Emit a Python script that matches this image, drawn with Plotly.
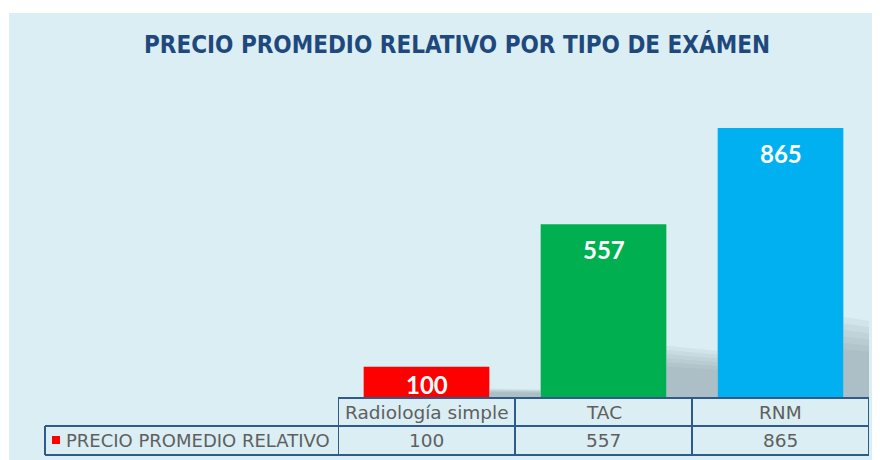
import plotly.graph_objects as go

# data
examenes = ['Radiología simple', 'TAC', 'RNM']
precio = [100, 557, 865]
serie = 'PRECIO PROMEDIO RELATIVO'
colores = ['#FF0000', '#00B050', '#00B0F0']
titulo = 'PRECIO PROMEDIO RELATIVO POR TIPO DE EXÁMEN'

# the page has an 8px body margin, so the figure is 8px smaller
W, H = 872, 452
L, R, T, B = 330, 11, 78, 62
PW, PH = W - L - R, H - T - B
YMAX = 1000


# positions given in pixels of the 880x460 window
def px(x):
    return (x - 8 - L) / PW


def py(y):
    return (H - B - (y - 8)) / PH


BG = '#DAEEF3'
LINE = '#2E5B8A'
GRIS = '#5F5F5F'
xs = list(range(len(examenes)))
bw = 0.71

fig = go.Figure()

# sombras detras de las barras (capas para un degradado hacia arriba)
capas = 6
for i, v in enumerate(precio):
    x0 = i + bw / 2
    x1 = x0 + 0.29
    h = v * 0.3
    for k in range(capas):
        hk = h * (0.6 + 0.4 * k / (capas - 1))
        fig.add_trace(go.Scatter(
            x=[x0, x1, x1, x0, x0], y=[0, 0, hk * 0.9, hk, 0],
            fill='toself', mode='none', hoverinfo='skip', showlegend=False,
            fillcolor='rgba(135,150,158,0.115)'))

fig.add_trace(go.Bar(
    x=xs, y=precio, width=bw, marker=dict(color=colores, line=dict(width=0)),
    showlegend=False, hoverinfo='skip'))

# etiquetas de valor
for i, v in enumerate(precio):
    alto = v * PH / YMAX
    if alto > 50:
        fig.add_annotation(x=i, y=v, text='<b>%d</b>' % v, showarrow=False,
                           yanchor='top', yshift=-9,
                           font=dict(family='Lato, Noto Sans, sans-serif', size=24, color='white'))
    else:
        fig.add_annotation(x=i, y=v / 2, text='<b>%d</b>' % v, showarrow=False,
                           yanchor='middle', yshift=-2,
                           font=dict(family='Lato, Noto Sans, sans-serif', size=24, color='white'))

shapes = []
# panel de fondo
shapes.append(dict(type='rect', xref='paper', yref='paper', layer='below',
                   x0=px(9), x1=px(882), y0=py(13), y1=py(462),
                   fillcolor=BG, line=dict(width=0)))

# tabla de datos
r0, r1, r2 = py(398), py(426), py(455)
lw = 2
shapes.append(dict(type='line', xref='x', yref='paper', x0=-0.5, x1=2.5, y0=r0, y1=r0,
                   line=dict(color=LINE, width=lw)))
shapes.append(dict(type='line', xref='paper', yref='paper', x0=px(45), x1=1, y0=r1, y1=r1,
                   line=dict(color=LINE, width=lw)))
shapes.append(dict(type='line', xref='paper', yref='paper', x0=px(45), x1=1, y0=r2, y1=r2,
                   line=dict(color=LINE, width=lw)))
shapes.append(dict(type='line', xref='paper', yref='paper', x0=px(45), x1=px(45), y0=r1, y1=r2,
                   line=dict(color=LINE, width=lw)))
for k in range(len(examenes) + 1):
    shapes.append(dict(type='line', xref='x', yref='paper', x0=k - 0.5, x1=k - 0.5,
                       y0=r0, y1=r2, line=dict(color=LINE, width=lw)))
# marcador de la leyenda
shapes.append(dict(type='rect', xref='paper', yref='paper',
                   x0=px(52), x1=px(60), y0=py(444), y1=py(436),
                   fillcolor=colores[0], line=dict(width=0)))

tfont = dict(family='DejaVu Sans, sans-serif', size=18.5, color=GRIS)
for i, e in enumerate(examenes):
    fig.add_annotation(x=i, y=(r0 + r1) / 2, yref='paper', text=e, showarrow=False,
                       yanchor='middle', font=tfont)
    fig.add_annotation(x=i, y=(r1 + r2) / 2, yref='paper', text=str(precio[i]),
                       showarrow=False, yanchor='middle', font=tfont)
fig.add_annotation(x=px(64), y=(r1 + r2) / 2, xref='paper', yref='paper', text=serie,
                   showarrow=False, xanchor='left', yanchor='middle',
                   font=dict(family='DejaVu Sans, sans-serif', size=18, color=GRIS))

fig.update_layout(
    width=W, height=H,
    margin=dict(l=L, r=R, t=T, b=B, pad=0),
    paper_bgcolor='white', plot_bgcolor='rgba(0,0,0,0)',
    shapes=shapes,
    title=dict(text='<b>' + titulo + '</b>', xref='container', yref='container',
               x=(457 - 8) / W, y=1 - (45 - 8) / H, xanchor='center', yanchor='middle',
               font=dict(family='Liberation Sans Narrow, DejaVu Sans Condensed, sans-serif',
                         size=24, color='#1F497D')),
    xaxis=dict(range=[-0.5, 2.5], visible=False, fixedrange=True),
    yaxis=dict(range=[0, YMAX], visible=False, fixedrange=True),
    showlegend=False,
)

fig.write_html('out.html')
